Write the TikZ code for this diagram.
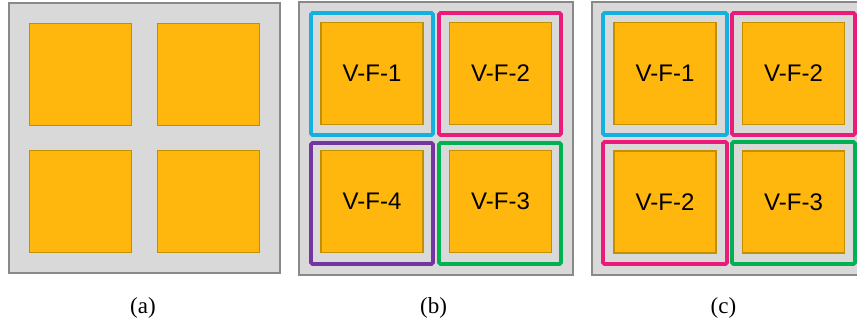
\documentclass[tikz,border=0pt]{standalone}
\usepackage{fontspec}
\setmainfont{Liberation Serif}
\newfontfamily\arialfont{Liberation Sans}
\definecolor{panelgray}{HTML}{D9D9D9}
\definecolor{paneledge}{HTML}{898989}
\definecolor{cellfill}{HTML}{FFB60D}
\definecolor{celledge}{HTML}{C28F00}
\definecolor{vfcyan}{HTML}{14B0DF}
\definecolor{vfpink}{HTML}{EA1B7B}
\definecolor{vfpurple}{HTML}{7434A2}
\definecolor{vfgreen}{HTML}{00B152}
\tikzset{
  panel/.style={draw=paneledge, fill=panelgray, line width=1.8pt},
  cell/.style={draw=celledge, fill=cellfill, line width=1.6pt, minimum width=102pt, minimum height=102pt, inner sep=0pt, font=\arialfont\fontsize{24}{28}\selectfont},
  vframe/.style={line width=3.6pt, rounded corners=1.5pt},
  caption/.style={font=\fontsize{23}{26}\selectfont, inner sep=0pt}
}
\begin{document}
\begin{tikzpicture}[x=1pt, y=-1pt]
\useasboundingbox (0,0) rectangle (857,329);
\clip (0,0) rectangle (857,329);
% (a) plain 2x2 layout
\draw[panel] (9,3) rectangle (280,273);
\node[cell] (a1) at (80.5,74.5) {};
\node[cell] (a2) at (208.5,74.5) {};
\node[cell] (a3) at (80.5,201.5) {};
\node[cell] (a4) at (208.5,201.5) {};
\node[caption] (ca) at (143,308) {(a)};
% (b) four distinct groups
\draw[panel] (299,2) rectangle (573,275);
\draw[vframe, vfcyan] (311,13) rectangle (433,135);
\draw[vframe, vfpink] (439,13) rectangle (561,135);
\draw[vframe, vfpurple] (311,143) rectangle (433,264);
\draw[vframe, vfgreen] (439,143) rectangle (561,264);
\node[cell] (b1) at (372,73.5) {V-F-1};
\node[cell] (b2) at (500.5,73.5) {V-F-2};
\node[cell] (b4) at (372,201.5) {V-F-4};
\node[cell] (b3) at (500.5,201.5) {V-F-3};
\node[caption] (cb) at (433.5,308) {(b)};
% (c) shared group V-F-2
\draw[panel] (592,2) rectangle (866,275);
\draw[vframe, vfcyan] (603,13) rectangle (727,135);
\draw[vframe, vfpink] (732,13) rectangle (855,135);
\draw[vframe, vfpink] (603,142) rectangle (727,264);
\draw[vframe, vfgreen] (732,142) rectangle (855,264);
\node[cell] (c1) at (665,73.5) {V-F-1};
\node[cell] (c2) at (793.5,73.5) {V-F-2};
\node[cell] (c4) at (665,202) {V-F-2};
\node[cell] (c3) at (793.5,202) {V-F-3};
\node[caption] (cc) at (723.5,308) {(c)};
\end{tikzpicture}
\end{document}
